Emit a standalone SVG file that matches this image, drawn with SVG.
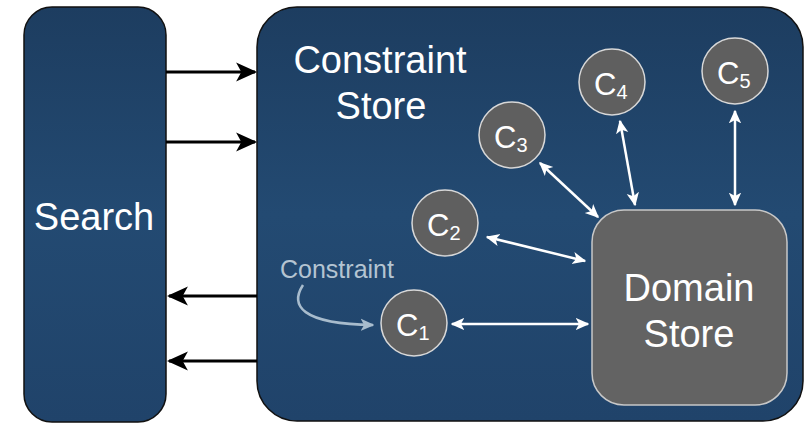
<svg xmlns="http://www.w3.org/2000/svg" width="811" height="425" viewBox="0 0 811 425">
<defs>
<linearGradient id="bg" x1="0" y1="0" x2="0" y2="1">
<stop offset="0" stop-color="#1d3d60"/>
<stop offset="0.5" stop-color="#234a72"/>
<stop offset="1" stop-color="#20436a"/>
</linearGradient>
<marker id="bk" viewBox="0 0 20 20" refX="18" refY="10" markerWidth="7" markerHeight="7" markerUnits="strokeWidth" orient="auto-start-reverse">
<path d="M0,1 L20,10 L0,19 L5,10 Z" fill="#000"/>
</marker>
<marker id="wh" viewBox="0 0 20 20" refX="18" refY="10" markerWidth="5.5" markerHeight="5.5" markerUnits="strokeWidth" orient="auto-start-reverse">
<path d="M0,1 L20,10 L0,19 L5,10 Z" fill="#fff"/>
</marker>
<marker id="gy" viewBox="0 0 20 20" refX="18" refY="10" markerWidth="5.5" markerHeight="5.5" markerUnits="strokeWidth" orient="auto">
<path d="M0,1 L20,10 L0,19 L5,10 Z" fill="#a8bccd"/>
</marker>
</defs>
<style>
text{font-family:"Liberation Sans",Arial,sans-serif;fill:#fff}
.box{fill:url(#bg);stroke:#111;stroke-width:1.5}
.circ{fill:#5f5f5f;stroke:#d8d8d8;stroke-width:1.5}
.big{font-size:38px}
.c{font-size:31px}
.sub{font-size:20px}
.blk{stroke:#000;stroke-width:3;fill:none;marker-end:url(#bk)}
.wht{stroke:#fff;stroke-width:2.5;fill:none;marker-start:url(#wh);marker-end:url(#wh)}
</style>
<rect width="811" height="425" fill="#fff"/>
<g id="search">
<rect class="box" x="24" y="7" width="142" height="415" rx="28"/>
<text class="big" x="94" y="230" text-anchor="middle">Search</text>
</g>
<g id="constraint-store">
<rect class="box" x="257" y="7" width="546" height="414" rx="40"/>
<text class="big" x="380" y="73" text-anchor="middle">Constraint</text>
<text class="big" x="381" y="119" text-anchor="middle">Store</text>
</g>
<g id="domain-store">
<rect x="592" y="210" width="195" height="195" rx="32" fill="#636363" stroke="#c8c8c8" stroke-width="1.5"/>
<text class="big" x="689" y="301" text-anchor="middle">Domain</text>
<text class="big" x="689" y="347" text-anchor="middle">Store</text>
</g>
<g id="c1">
<circle class="circ" cx="414" cy="323" r="33"/>
<text x="396" y="336"><tspan class="c">C</tspan><tspan class="sub" dy="4">1</tspan></text>
</g>
<g id="c2">
<circle class="circ" cx="445" cy="223" r="33"/>
<text x="427" y="236"><tspan class="c">C</tspan><tspan class="sub" dy="4">2</tspan></text>
</g>
<g id="c3">
<circle class="circ" cx="512" cy="135" r="33"/>
<text x="494" y="148"><tspan class="c">C</tspan><tspan class="sub" dy="4">3</tspan></text>
</g>
<g id="c4">
<circle class="circ" cx="612" cy="82" r="33"/>
<text x="594" y="95"><tspan class="c">C</tspan><tspan class="sub" dy="4">4</tspan></text>
</g>
<g id="c5">
<circle class="circ" cx="735" cy="71" r="33"/>
<text x="717" y="84"><tspan class="c">C</tspan><tspan class="sub" dy="4">5</tspan></text>
</g>
<g id="constraint-label">
<text x="280" y="278" font-size="25" style="fill:#b4c4d2">Constraint</text>
</g>
<g id="connectors">
<line class="blk" x1="166" y1="72" x2="255" y2="72"/>
<line class="blk" x1="166" y1="142" x2="255" y2="142"/>
<line class="blk" x1="257" y1="296" x2="169" y2="296"/>
<line class="blk" x1="257" y1="361" x2="169" y2="361"/>
<line class="wht" x1="452" y1="324" x2="588" y2="324"/>
<line class="wht" x1="487" y1="237" x2="585" y2="261"/>
<line class="wht" x1="540" y1="163" x2="598" y2="217"/>
<line class="wht" x1="620" y1="121" x2="635" y2="205"/>
<line class="wht" x1="735" y1="111" x2="735" y2="205"/>
<path d="M303,285 C290,305 300,324 373,325" stroke="#a8bccd" stroke-width="2.5" fill="none" marker-end="url(#gy)"/>
</g>
</svg>
